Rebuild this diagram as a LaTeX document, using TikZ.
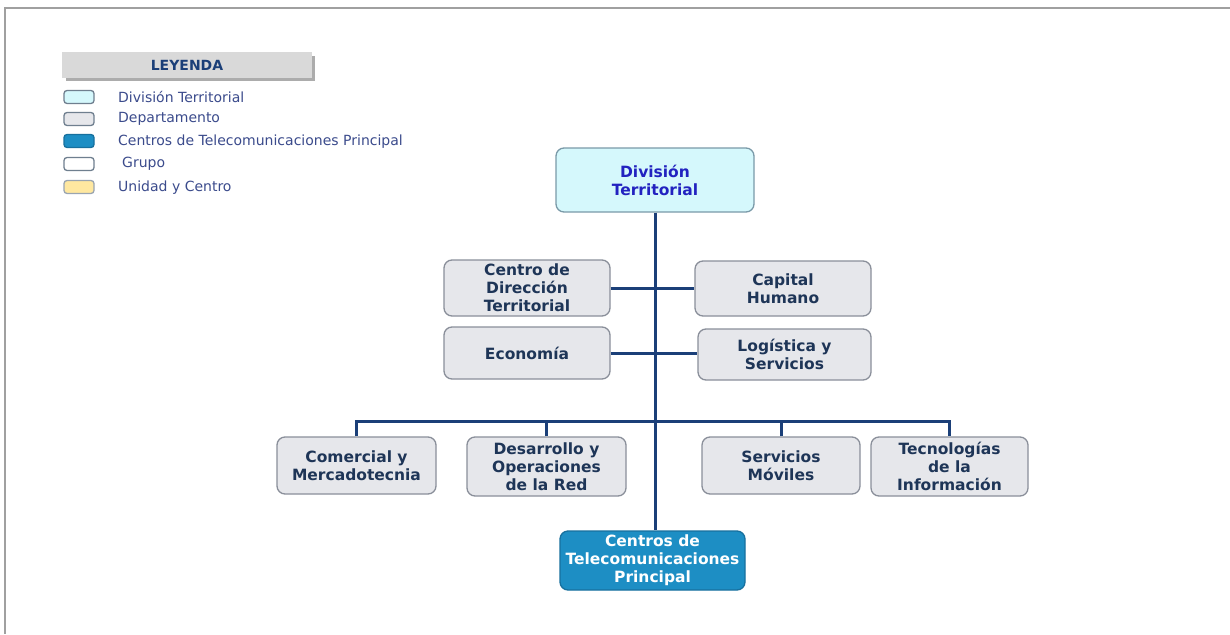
\documentclass[tikz,border=0pt]{standalone}
\usepackage{fontspec}
\setmainfont{DejaVu Sans}
\begin{document}
\definecolor{linecol}{HTML}{1B3F78}
\definecolor{boxtext}{HTML}{1E3557}
\definecolor{deptfill}{HTML}{E6E7EB}
\definecolor{deptdraw}{HTML}{8A8F9A}
\definecolor{divfill}{HTML}{D5F8FC}
\definecolor{divdraw}{HTML}{7A9AA8}
\definecolor{divtext}{HTML}{2222C0}
\definecolor{ctpfill}{HTML}{1D8EC4}
\definecolor{ctpdraw}{HTML}{17709E}
\definecolor{unitfill}{HTML}{FFE8A0}
\definecolor{legtext}{HTML}{3B4B8C}
\definecolor{legdraw}{HTML}{6F7F8F}
\definecolor{framecol}{HTML}{A0A0A0}
\tikzset{
  box/.style={rounded corners=8pt, line width=1.3pt, align=center, inner sep=2pt,
    font=\fontsize{15.5}{18}\selectfont\bfseries},
  dept/.style={box, fill=deptfill, draw=deptdraw, text=boxtext},
  divbox/.style={box, fill=divfill, draw=divdraw, text=divtext},
  ctpbox/.style={box, fill=ctpfill, draw=ctpdraw, text=white},
  link/.style={draw=linecol, line width=3pt},
  swatch/.style={rounded corners=3pt, line width=1.3pt, draw=legdraw,
    minimum width=30pt, minimum height=13pt, inner sep=0pt},
  legitem/.style={anchor=west, text=legtext, inner sep=0pt,
    font=\fontsize{14}{16}\selectfont},
}
\begin{tikzpicture}[x=1pt,y=-1pt]
\useasboundingbox (0,0) rectangle (1230,634);
\fill[white] (0,0) rectangle (1230,634);
% page frame (top and left edges)
\draw[framecol, line width=2pt] (4.5,634) -- (4.5,8.5) -- (1230,8.5);

% legend
\fill[gray!65] (66,56) rectangle (315,81);
\node[fill=gray!30, minimum width=250pt, minimum height=26pt, inner sep=0pt,
  text=linecol, font=\fontsize{14}{16}\selectfont\bfseries] (leghead) at (187,65) {LEYENDA};
\node[swatch, fill=divfill] (sw1) at (79,97) {};
\node[swatch, fill=deptfill] (sw2) at (79,119) {};
\node[swatch, fill=ctpfill, draw=ctpdraw] (sw3) at (79,141) {};
\node[swatch, fill=white] (sw4) at (79,164) {};
\node[swatch, fill=unitfill, draw=legdraw!70] (sw5) at (79,187) {};
\node[legitem] (lt1) at (118,97) {División Territorial};
\node[legitem] (lt2) at (118,119) {Departamento};
\node[legitem] (lt3) at (118,142) {Centros de Telecomunicaciones Principal};
\node[legitem] (lt4) at (122,164) {Grupo};
\node[legitem] (lt5) at (118,188) {Unidad y Centro};

% chart boxes
\node[divbox, minimum width=198pt, minimum height=64pt] (div) at (655,180) {División\\Territorial};
\node[dept, minimum width=166pt, minimum height=56pt] (cdt) at (527,288) {Centro de\\Dirección\\Territorial};
\node[dept, minimum width=176pt, minimum height=55pt] (cap) at (783,288.5) {Capital\\Humano};
\node[dept, minimum width=166pt, minimum height=52pt] (eco) at (527,353) {Economía};
\node[dept, minimum width=173pt, minimum height=51pt] (log) at (784.5,354.5) {Logística y\\Servicios};
\node[dept, minimum width=159pt, minimum height=57pt] (com) at (356.5,465.5) {Comercial y\\Mercadotecnia};
\node[dept, minimum width=159pt, minimum height=59pt] (des) at (546.5,466.5) {Desarrollo y\\Operaciones\\de la Red};
\node[dept, minimum width=158pt, minimum height=57pt] (ser) at (781,465.5) {Servicios\\Móviles};
\node[dept, minimum width=157pt, minimum height=59pt] (tec) at (949.5,466.5) {Tecnologías\\de la\\Información};
\node[ctpbox, minimum width=185pt, minimum height=59pt] (ctp) at (652.5,560.5) {Centros de\\Telecomunicaciones\\Principal};

% connectors
\coordinate (bus) at (655,421);
\draw[link] (div.south) -- (div.south |- ctp.north);
\draw[link] (cdt.east) -- (cdt.east -| cap.west);
\draw[link] (eco.east) -- (eco.east -| log.west);
\draw[link] (com.north) |- (tec.north |- bus) -- (tec.north);
\draw[link] (des.north) -- (des.north |- bus);
\draw[link] (ser.north) -- (ser.north |- bus);
\end{tikzpicture}
\end{document}
